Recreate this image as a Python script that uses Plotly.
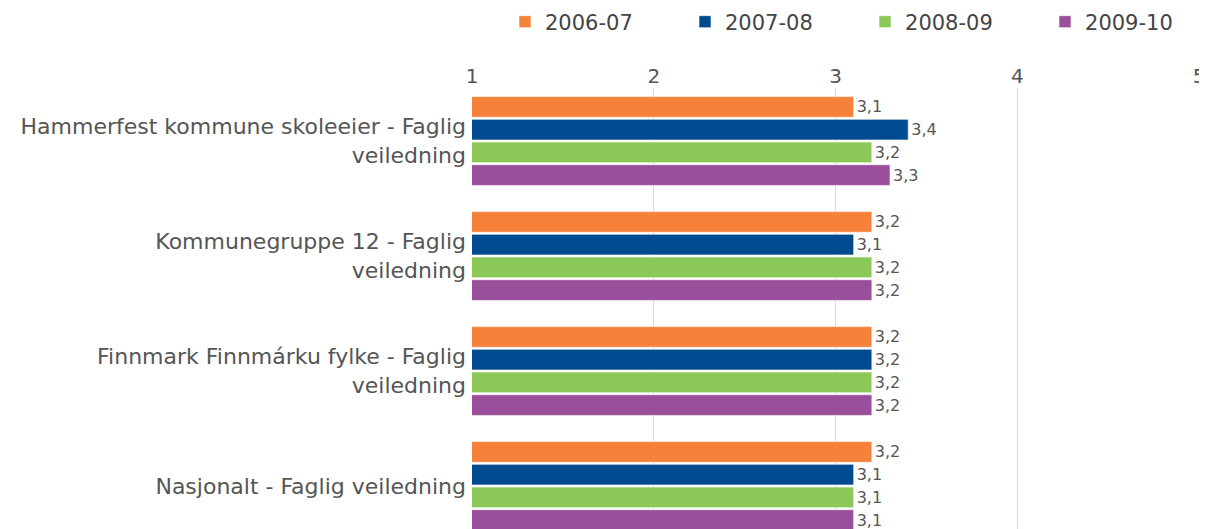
import plotly.graph_objects as go

categories = [
    "Hammerfest kommune skoleeier - Faglig<br>veiledning",
    "Kommunegruppe 12 - Faglig<br>veiledning",
    "Finnmark Finnmárku fylke - Faglig<br>veiledning",
    "Nasjonalt - Faglig veiledning",
]
series_names = ["2006-07", "2007-08", "2008-09", "2009-10"]
v_2006_07 = [3.1, 3.2, 3.2, 3.2]
v_2007_08 = [3.4, 3.1, 3.2, 3.1]
v_2008_09 = [3.2, 3.2, 3.2, 3.1]
v_2009_10 = [3.3, 3.2, 3.2, 3.1]
x_ticks = [1, 2, 3, 4, 5]

colors = ["#F5813A", "#004A8F", "#8CC858", "#994E99"]
values = [v_2006_07, v_2007_08, v_2008_09, v_2009_10]
legend_ids = ["legend", "legend2", "legend3", "legend4"]
legend_x = [0.0454, 0.293, 0.5406, 0.7882]

FONT = "DejaVu Sans"
fig = go.Figure()
for name, vals, col, lid in zip(series_names, values, colors, legend_ids):
    fig.add_trace(go.Bar(
        y=categories, x=vals, name=name, orientation="h",
        marker=dict(color=col, line=dict(color="rgba(255,255,255,0.6)", width=1)),
        texttemplate="%{x:.1f}", textposition="outside", constraintext="none",
        textfont=dict(family=FONT, size=16, color="#555555"),
        cliponaxis=False, legend=lid,
    ))

legend_common = dict(orientation="h", yref="container", y=0.9731, yanchor="middle",
                     xanchor="left",
                     font=dict(family=FONT, size=21, color="#444444"),
                     bgcolor="rgba(0,0,0,0)")

# the page adds an 8px offset around the figure, compensated in the margins
fig.update_layout(
    width=1199, height=521,
    margin=dict(l=464, r=8, t=80, b=0),
    paper_bgcolor="white", plot_bgcolor="white",
    separators=", ",
    barmode="group", bargap=0.21, bargroupgap=0.09,
    font=dict(family=FONT, size=21, color="#555555"),
    showlegend=True,
    legend=dict(x=legend_x[0], **legend_common),
    legend2=dict(x=legend_x[1], **legend_common),
    legend3=dict(x=legend_x[2], **legend_common),
    legend4=dict(x=legend_x[3], **legend_common),
    xaxis=dict(side="top", range=[1, 5], tickvals=x_ticks, showgrid=True,
               gridcolor="#DADADA", gridwidth=1, zeroline=False, showline=False,
               ticks="", automargin=False,
               tickfont=dict(family=FONT, size=20, color="#555555")),
    yaxis=dict(type="category", range=[3.374, -0.461], showgrid=False, ticks="",
               showline=False, zeroline=False, automargin=False,
               ticklabelstandoff=5,
               tickfont=dict(family=FONT, size=22, color="#555555")),
)

fig.write_html("out.html")
